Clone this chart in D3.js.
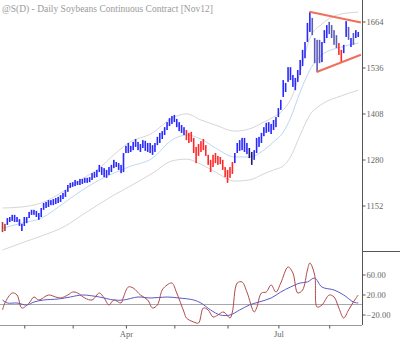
<!DOCTYPE html>
<html><head><meta charset="utf-8">
<script src="https://cdn.jsdelivr.net/npm/d3@7"></script>
<style>body{margin:0;background:#fff}svg{display:block}</style>
</head><body><svg id="c" width="400" height="339"></svg>
<script>
// ---- DATA ----
const title = "@S(D) - Daily  Soybeans Continuous Contract [Nov12]";
const high = [1106,1101,1117,1120,1126,1126,1120,1114,1101,1120,
 1120,1134,1140,1140,1137,1131,1145,1159,1162,1167,
 1167,1170,1173,1176,1181,1187,1195,1209,1215,1217,
 1223,1220,1226,1226,1229,1229,1231,1242,1245,1251,
 1265,1259,1256,1251,1259,1265,1279,1273,1270,1265,
 1298,1318,1326,1318,1329,1337,1329,1323,1334,1332,
 1326,1326,1320,1326,1343,1354,1359,1370,1384,1395,
 1401,1404,1393,1384,1376,1370,1362,1354,1357,1340,
 1315,1323,1331,1337,1320,1293,1279,1293,1298,1290,
 1287,1279,1259,1251,1259,1273,1298,1326,1334,1340,
 1340,1326,1312,1301,1306,1340,1343,1354,1370,1382,
 1384,1379,1390,1398,1423,1446,1501,1493,1537,1537,
 1515,1507,1529,1557,1585,1607,1660,1690,1674,1618,
 1613,1613,1607,1640,1654,1663,1654,1640,1626,1604,
 1585,1599,1665,1649,1618,1632,1640,1635];
const low = [1078,1081,1098,1106,1109,1106,1106,1095,1081,1095,
 1103,1117,1126,1126,1120,1112,1120,1140,1145,1148,
 1153,1153,1156,1159,1162,1170,1176,1190,1201,1204,
 1206,1209,1209,1212,1215,1215,1217,1223,1229,1231,
 1245,1237,1231,1229,1237,1245,1256,1259,1251,1242,
 1245,1298,1298,1301,1306,1315,1306,1301,1312,1304,
 1301,1298,1293,1301,1320,1326,1337,1348,1362,1373,
 1379,1384,1370,1359,1354,1348,1334,1326,1329,1298,
 1270,1290,1301,1306,1290,1265,1245,1259,1270,1265,
 1267,1251,1231,1215,1229,1240,1270,1298,1304,1306,
 1301,1295,1284,1265,1279,1298,1315,1326,1345,1354,
 1357,1351,1362,1370,1398,1418,1454,1468,1496,1501,
 1482,1473,1496,1515,1540,1562,1607,1635,1626,1548,
 1523,1548,1551,1604,1618,1629,1618,1599,1590,1571,
 1551,1576,1621,1613,1593,1599,1618,1621];
// bar signal state runs: r=weak bear, R=bear, B=bull, b=bull pullback, N=neutral
const stateRuns = [["r",2],["B",74],["R",20],["B",6],["N",2],["B",24],["b",4],["B",3],["b",4],["R",2],["B",2],["b",1],["B",1],["b",1],["B",2]];

const bandIdx = [0,8,16,26,33,40,46,52,62,70,76,82,88,96,102,108,112,116,119,123,127,132,140,147];
const upperBand = [1145,1148,1159,1195,1226,1256,1293,1326,1354,1395,1407,1390,1376,1359,1365,1384,1398,1418,1446,1523,1618,1657,1685,1690];
const midBand = [1089,1103,1117,1162,1195,1223,1242,1259,1284,1334,1348,1337,1312,1287,1287,1306,1329,1356,1395,1468,1529,1571,1593,1604];
const lowerBand = [1028,1048,1067,1095,1126,1156,1181,1203,1242,1276,1281,1267,1245,1220,1223,1240,1251,1262,1287,1348,1404,1434,1457,1473];

const trendTopIdx = [126.8,148.1], trendTopPrice = [1691,1661];
const trendBotIdx = [129.8,148.1], trendBotPrice = [1523.5,1571.6];

const oscIdx = [0,1,4,6,8,11,13,15,19,22,24,27,29,31,34,37,40,42,44,46,49,50,52,54,57,60,62,64,66,68,70,72,75,76,79,81,83,85,87,89,91,92,94,95,97,99,101,104,105,107,109,111,113,115,118,120,122,124,126,127,129,130,132,135,137,139,141,143,145,147];
const oscFast = [-11,3,23,19,-7,3,15,9,19,15,13,19,25,23,13,9,23,13,-1,9,3,15,35,33,19,9,-7,-1,29,39,43,23,-15,-27,-35,-37,-7,-11,-25,-21,-15,-17,-27,-15,43,45,25,-15,-7,23,25,39,25,43,75,63,23,29,69,83,59,-5,-1,19,15,-7,-27,-11,5,19];
const oscSlowIdx = [0,2,6,10,13,17,23,28,33,40,46,50,56,61,68,73,79,82,86,90,94,98,102,106,111,115,119,123,126,129,132,137,141,145,147];
const oscSlow = [9,3,3,-1,5,9,11,15,19,15,9,9,15,13,15,13,9,3,-11,-21,-21,-11,-1,5,13,25,35,43,45,53,35,29,19,5,3];

const priceTicks = [1152,1280,1408,1536,1664];
const oscTicks = [60,20,-20];
const monthStarts = [9,29,51,71,93,114,135];
const monthNames = ["Feb","Mar","Apr","May","Jun","Jul","Aug"];
const labeledMonths = ["Apr","Jul"];

// ---- CHART ----
const svg = d3.select("#c");
svg.append("rect").attr("width",400).attr("height",339).attr("fill","#fff");
const AX = 362, MAIN_B = 251, OSC_B = 325;
const x = d3.scaleLinear().domain([0,147]).range([2.5, 358.24]);
const y = d3.scaleLinear().domain([1152,1664]).range([205.5,21.5]);
const yo = d3.scaleLinear().domain([-20,60]).range([314.5,274.5]);

const state = stateRuns.flatMap(([s,n]) => Array(n).fill(s));
const colors = {r:"#b83a3a", R:"#ff2828", B:"#2828ff", b:"#5c5cb8", N:"#1c1c70"};

const defs = svg.append("defs");
defs.append("clipPath").attr("id","cm").append("rect").attr("x",0).attr("y",0).attr("width",AX).attr("height",MAIN_B);
defs.append("clipPath").attr("id","co").append("rect").attr("x",0).attr("y",MAIN_B).attr("width",AX).attr("height",OSC_B-MAIN_B);

const main = svg.append("g").attr("clip-path","url(#cm)");
const bandLine = d3.line().x(d=>x(d[0])).y(d=>y(d[1])).curve(d3.curveMonotoneX);
[[upperBand,"#d6d6d6"],[lowerBand,"#d6d6d6"],[midBand,"#bcd8f4"]].forEach(([arr,c])=>{
  main.append("path").attr("d", bandLine(bandIdx.map((k,j)=>[k,arr[j]])))
    .attr("fill","none").attr("stroke",c).attr("stroke-width",1);
});

main.append("g").selectAll("rect").data(d3.range(high.length)).join("rect")
  .attr("x", i=>x(i)-0.8).attr("width",1.6)
  .attr("y", i=>y(high[i])).attr("height", i=>Math.max(1,y(low[i])-y(high[i])))
  .attr("fill", i=>colors[state[i]]);

const tl = d3.line().x(d=>x(d[0])).y(d=>y(d[1]));
[[trendTopIdx,trendTopPrice],[trendBotIdx,trendBotPrice]].forEach(([ix,pr])=>{
  svg.append("path").attr("d", tl(ix.map((k,j)=>[k,pr[j]])))
    .attr("stroke","#f0705c").attr("stroke-width",2).attr("fill","none");
});

// oscillator panel
const osc = svg.append("g").attr("clip-path","url(#co)");
osc.append("line").attr("x1",0).attr("x2",AX).attr("y1",yo(0)).attr("y2",yo(0)).attr("stroke","#a8a8a8");
const ol = d3.line().x(d=>x(d[0])).y(d=>yo(d[1])).curve(d3.curveCatmullRom);
osc.append("path").attr("d", ol(oscSlowIdx.map((k,j)=>[k,oscSlow[j]])))
  .attr("fill","none").attr("stroke","#5a5ac8").attr("stroke-width",1);
osc.append("path").attr("d", ol(oscIdx.map((k,j)=>[k,oscFast[j]])))
  .attr("fill","none").attr("stroke","#b04a4a").attr("stroke-width",1);

// frame lines
svg.append("line").attr("x1",AX+0.5).attr("x2",AX+0.5).attr("y1",0).attr("y2",OSC_B).attr("stroke","#555");
svg.append("line").attr("x1",AX).attr("x2",400).attr("y1",MAIN_B+0.5).attr("y2",MAIN_B+0.5).attr("stroke","#555");
svg.append("line").attr("x1",0).attr("x2",AX).attr("y1",OSC_B+0.5).attr("y2",OSC_B+0.5).attr("stroke","#999");

const font = "Liberation Serif";
function styleAxis(g){
  g.select(".domain").remove();
  g.selectAll(".tick line").attr("stroke","#555");
  g.selectAll(".tick text").attr("fill","#666").attr("font-family",font).attr("font-size",8.5);
}
svg.append("g").attr("transform",`translate(${AX+0.5},0)`)
  .call(d3.axisRight(y).tickValues(priceTicks).tickSize(3).tickPadding(1).tickFormat(d3.format("d"))).call(styleAxis);
svg.append("g").attr("transform",`translate(${AX+0.5},0)`)
  .call(d3.axisRight(yo).tickValues(oscTicks).tickSize(3).tickPadding(1).tickFormat(d3.format(".2f"))).call(styleAxis);
svg.append("g").attr("transform",`translate(0,${OSC_B+0.5})`)
  .call(d3.axisBottom(x).tickValues(monthStarts).tickSize(3).tickPadding(2)
    .tickFormat((d,i)=> labeledMonths.includes(monthNames[i]) ? monthNames[i] : "")).call(styleAxis);

svg.append("text").attr("x",2).attr("y",11.5).text(title)
  .attr("font-family",font).attr("font-size",9.5).attr("fill","#9a9a9a");
</script></body></html>
